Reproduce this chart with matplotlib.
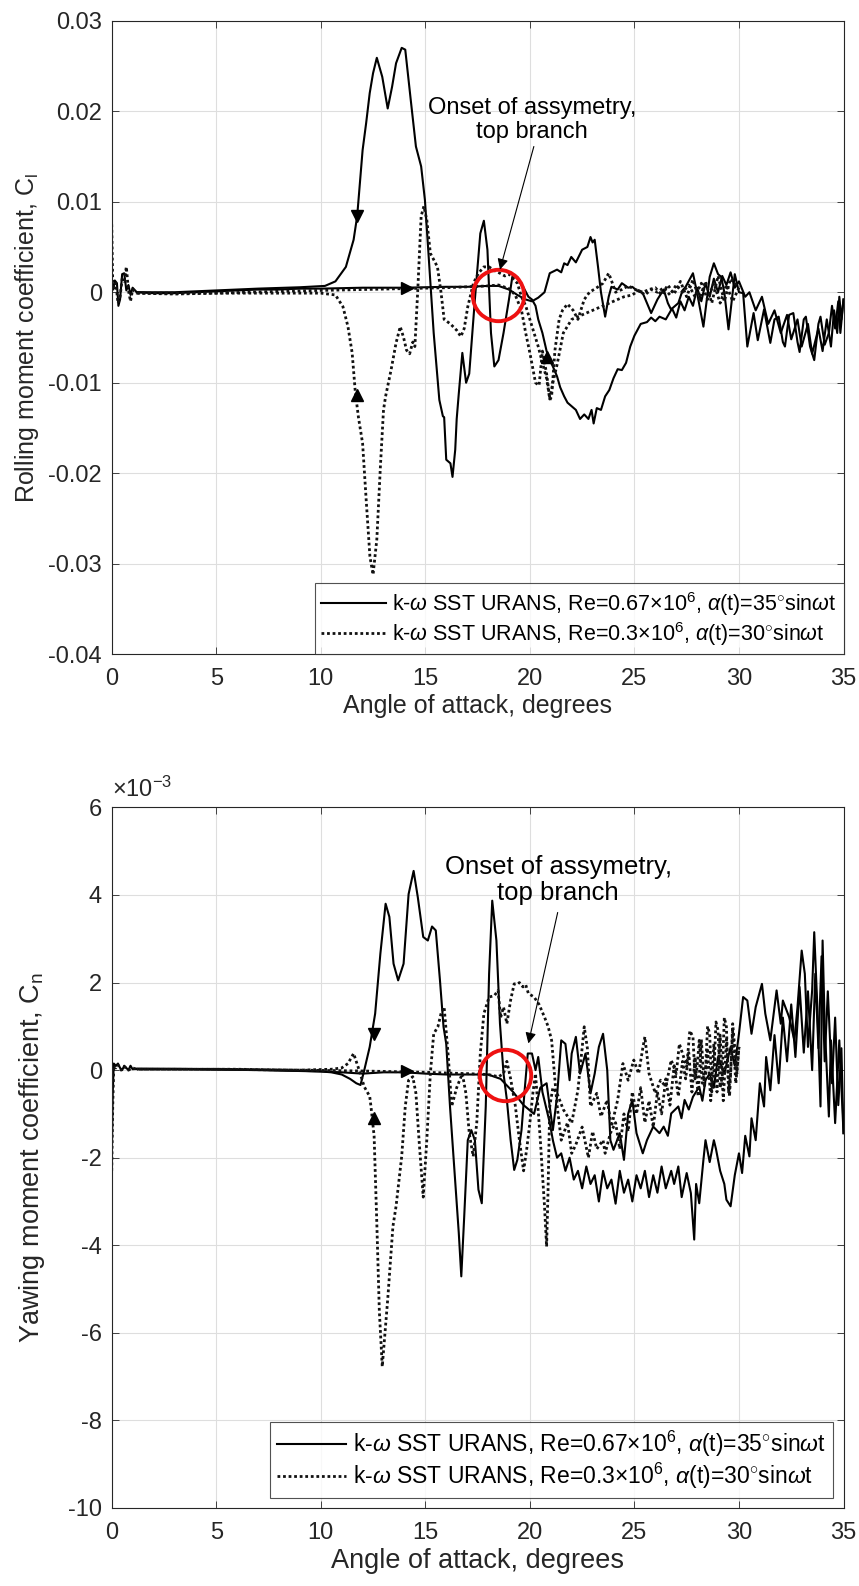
import numpy as np
import matplotlib
matplotlib.use("Agg")
import matplotlib.pyplot as plt

plt.rcParams['font.family'] = ['Liberation Sans', 'DejaVu Sans']
plt.rcParams['mathtext.fontset'] = 'custom'
plt.rcParams['mathtext.rm'] = 'Liberation Sans'
plt.rcParams['mathtext.it'] = 'Liberation Sans:italic'
plt.rcParams['mathtext.bf'] = 'Liberation Sans:bold'

# ---------------- data: rolling moment (top) ----------------
cl_re067_up = [(0.0,0.0012),(0.08,0.0003),(0.15,0.0013),(0.25,0.0010),(0.32,-0.0015),(0.4,-0.0008),(0.5,0.0020),
 (0.6,0.0021),(0.7,0.0002),(0.8,0.0008),(0.9,-0.0003),(1.0,0.0005),(1.2,0.0),(2,-0.0001),(3,-0.0001),(4,0.0),
 (5,0.0001),(6,0.0002),(7,0.0003),(8,0.0003),(9,0.0004),(10,0.0004),(12,0.0005),(14,0.0005),(16,0.0006),(17,0.0006),
 (18,0.0007),(18.5,0.0007),(19.0,0.0003),(19.4,-0.0003),(19.8,-0.0008),(20.1,-0.0010),(20.4,-0.0006),(20.7,0.0),
 (20.95,0.0021),(21.3,0.0025),(21.5,0.0022),(21.64,0.0032),(21.8,0.0030),(21.98,0.0039),(22.2,0.0033),(22.35,0.0040),
 (22.5,0.0047),(22.75,0.0050),(22.9,0.0061),(23.0,0.0055),(23.1,0.0058),(23.26,0.0028),(23.4,0.0),(23.6,-0.0027),
 (23.77,-0.0005),(23.9,0.0006),(24.2,0.0003),(24.4,0.0010),(24.7,0.0005),(24.9,0.0006),(25.1,0.0002),(25.4,-0.0001),
 (25.6,-0.0012),(25.8,-0.0023),(26.1,-0.0008),(26.4,0.0003),(26.6,-0.0012),(26.75,-0.0019),(27.1,-0.0012),(27.3,0.0002),
 (27.45,0.0006),(27.8,0.0021),(28.0,-0.0001),(28.3,-0.0038),(28.6,0.0017),(28.8,0.0032),(29.0,0.0020),(29.15,0.0017),
 (29.3,0.0),(29.5,-0.0041),(29.8,0.0020),(30.0,0.0),(30.2,-0.0001),(30.4,-0.0060),(30.7,-0.0023),(30.9,-0.0053),
 (31.2,-0.0019),(31.5,-0.0056),(31.7,-0.0030),(31.9,-0.0027),(32.1,-0.0055),(32.2,-0.0060),(32.4,-0.0025),(32.6,-0.0023),
 (32.8,-0.0055),(32.9,-0.0066),(33.1,-0.0030),(33.2,-0.0027),(33.4,-0.0060),(33.6,-0.0075),(33.8,-0.0035),(33.9,-0.0027),
 (34.1,-0.0058),(34.3,-0.0045),(34.45,-0.0015),(34.6,-0.0040),(34.75,-0.0010),(34.85,-0.0045),(35.0,-0.0008)]

cl_re067_down = [(35.0,-0.0008),(34.9,-0.0030),(34.8,-0.0005),(34.7,-0.0045),(34.55,-0.0020),(34.4,-0.0060),(34.2,-0.0030),
 (34.0,-0.0065),(33.8,-0.0040),(33.5,-0.0068),(33.3,-0.0035),(33.0,-0.0060),(32.8,-0.0030),(32.5,-0.0052),(32.3,-0.0025),
 (32.0,-0.0045),(31.7,-0.0020),(31.4,-0.0035),(31.1,-0.0005),(30.8,-0.0020),(30.5,0.0),(30.3,-0.0005),(30.0,0.0012),
 (29.8,0.0005),(29.6,0.0022),(29.4,0.0008),(29.2,0.0018),(29.0,0.0),(28.8,0.0015),(28.6,-0.0005),(28.4,0.0010),
 (28.2,-0.0010),(28.0,0.0005),(27.8,-0.0015),(27.6,-0.0005),(27.4,-0.0020),(27.2,-0.0010),(27.0,-0.0028),(26.8,-0.0018),
 (26.5,-0.0030),(26.2,-0.0027),(26.0,-0.0032),(25.8,-0.0028),(25.6,-0.0033),(25.3,-0.0035),(25.0,-0.0048),(24.8,-0.0060),
 (24.6,-0.0078),(24.4,-0.0086),(24.2,-0.0085),(24.0,-0.0095),(23.8,-0.0108),(23.6,-0.0115),(23.4,-0.0130),(23.2,-0.0128),
 (23.05,-0.0145),(22.95,-0.0130),(22.8,-0.0140),(22.6,-0.0135),(22.4,-0.0140),(22.2,-0.0130),(22.0,-0.0126),(21.8,-0.0122),
 (21.64,-0.0115),(21.45,-0.0105),(21.3,-0.0093),(21.1,-0.0082),(20.95,-0.0075),(20.8,-0.0065),(20.6,-0.0045),(20.4,-0.0030),
 (20.27,-0.0015),(20.1,-0.0008),(19.93,-0.0005),(19.7,0.0005),(19.4,0.0017),(19.16,0.0017),(19.0,-0.0008),(18.74,-0.0045),
 (18.5,-0.0075),(18.3,-0.0082),(18.14,-0.0045),(17.97,0.0047),(17.8,0.0079),(17.63,0.0065),(17.37,-0.0008),(17.1,-0.0090),
 (16.95,-0.0100),(16.77,-0.0067),(16.6,-0.0112),(16.5,-0.0140),(16.43,-0.0174),(16.3,-0.0204),(16.2,-0.0189),(16.0,-0.0185),
 (15.9,-0.0138),(15.84,-0.0137),(15.67,-0.0119),(15.4,-0.0045),(15.15,0.0043),(14.98,0.0102),(14.8,0.0139),(14.55,0.0161),
 (14.3,0.0213),(14.04,0.0268),(13.87,0.0270),(13.6,0.0253),(13.41,0.0227),(13.2,0.0203),(12.94,0.0238),(12.68,0.0259),
 (12.5,0.0242),(12.34,0.0220),(12.17,0.0187),(12.0,0.0157),(11.74,0.0084),(11.57,0.0058),(11.2,0.0028),(10.7,0.0012),
 (10.2,0.0007),(9.0,0.00055),(7.0,0.0004),(5.0,0.0002),(3.0,0.0),(1.2,0.0)]

cl_re03_up = [(0.0,0.0075),(0.05,0.0010),(0.12,0.0005),(0.2,0.0010),(0.3,-0.0012),(0.4,-0.0005),(0.5,0.0015),(0.6,0.0012),
 (0.7,0.0028),(0.8,0.0002),(0.9,-0.0010),(1.0,0.0003),(1.2,-0.0001),(3,-0.0002),(5,-0.0001),(8,0.0001),(10,0.0002),
 (12,0.0003),(14,0.0004),(16,0.0005),(17,0.0006),(18,0.0007),(18.5,0.0008),(19.0,0.0004),(19.3,-0.0003),(19.6,-0.0020),
 (19.8,-0.0045),(20.0,-0.0067),(20.27,-0.0100),(20.44,-0.0103),(20.6,-0.0065),(20.8,-0.0090),(20.96,-0.0119),(21.04,-0.0115),
 (21.2,-0.0064),(21.4,-0.0030),(21.56,-0.0020),(21.8,-0.0013),(22.07,-0.0020),(22.3,-0.0030),(22.6,-0.0008),(22.85,0.0),
 (23.2,0.0005),(23.5,0.0010),(23.77,0.0021),(23.9,0.0013),(24.1,0.0),(24.4,0.0003),(24.7,0.0007),(25.05,0.0003),(25.4,0.0),
 (25.7,0.0003),(26.0,0.0005),(26.3,-0.0003),(26.6,0.0008),(26.9,-0.0002),(27.2,0.0012),(27.5,-0.0005),(27.8,0.0014),
 (28.1,-0.0008),(28.4,0.0012),(28.7,-0.0012),(29.0,0.0018),(29.3,-0.0010),(29.6,0.0015),(30.0,0.0005)]

cl_re03_down = [(30.0,0.0005),(29.7,-0.0010),(29.4,0.0008),(29.1,-0.0012),(28.8,0.0010),(28.5,-0.0008),(28.2,0.0010),
 (27.9,-0.0005),(27.6,0.0008),(27.3,0.0),(27.0,0.0008),(26.7,-0.0003),(26.4,0.0005),(26.1,0.0),(25.8,0.0003),(25.5,-0.0003),
 (25.2,0.0002),(24.9,-0.0003),(24.5,-0.0005),(24.0,-0.0010),(23.5,-0.0015),(23.0,-0.0020),(22.5,-0.0025),(22.0,-0.0030),
 (21.6,-0.0045),(21.3,-0.0080),(21.1,-0.0100),(20.95,-0.0118),(20.8,-0.0095),(20.6,-0.0078),(20.4,-0.0060),(20.2,-0.0045),
 (20.0,-0.0030),(19.8,-0.0015),(19.6,-0.0005),(19.4,0.0010),(19.2,0.0015),(19.0,0.0020),(18.8,0.0018),(18.57,0.0021),
 (18.3,0.0024),(18.05,0.0028),(17.8,0.0028),(17.54,0.0021),(17.3,0.0010),(17.03,-0.0016),(16.86,-0.0040),(16.7,-0.0049),
 (16.5,-0.0042),(16.2,-0.0035),(15.9,-0.0030),(15.75,0.0),(15.58,0.0028),(15.4,0.0036),(15.24,0.0043),(15.07,0.0080),
 (14.93,0.0095),(14.8,0.0084),(14.64,0.0003),(14.5,-0.0060),(14.4,-0.0055),(14.25,-0.0068),(14.1,-0.0064),(13.96,-0.0050),
 (13.8,-0.0038),(13.6,-0.0056),(13.36,-0.0086),(13.1,-0.0115),(13.0,-0.0130),(12.85,-0.0193),(12.68,-0.0273),(12.5,-0.0312),
 (12.35,-0.0292),(12.17,-0.0229),(12.0,-0.0167),(11.8,-0.0138),(11.65,-0.0110),(11.5,-0.0067),(11.3,-0.0038),(11.06,-0.0016),
 (10.7,-0.0003),(10.0,-0.0001),(5.0,-0.0001),(1.2,-0.0001)]

# ---------------- data: yawing moment (bottom), units of 1e-3 ----------------
cn_re067_up = [(0.0,-2.2),(0.05,-0.5),(0.1,0.15),(0.2,0.1),(0.3,0.15),(0.4,0.05),(0.5,0.0),(0.6,0.1),(0.7,0.05),(0.8,0.0),
 (0.9,0.1),(1.0,0.02),(1.2,0.03),(3,0.03),(5,0.02),(8,0.0),(10,-0.03),(11,-0.05),(12,-0.08),(13,-0.05),(14,-0.05),(15,-0.08),
 (16,-0.1),(17,-0.1),(18,-0.1),(18.6,-0.2),(19.2,-0.5),(19.7,-0.8),(20.2,-1.0),(20.5,-0.4),(20.8,-0.3),(20.95,-0.83),
 (21.1,-1.37),(21.3,-0.6),(21.5,0.68),(21.7,0.6),(21.9,-0.23),(22.0,0.38),(22.2,0.76),(22.4,-0.08),(22.66,0.38),(22.9,-0.53),
 (23.1,-0.08),(23.3,0.53),(23.5,0.83),(23.7,0.0),(23.85,-1.6),(24.0,-1.82),(24.3,-1.44),(24.5,-2.05),(24.7,-1.0),(24.9,-0.68),
 (25.1,-1.44),(25.4,-1.9),(25.6,-1.6),(25.9,-1.29),(26.2,-1.44),(26.4,-1.29),(26.6,-1.5),(26.76,-0.99),(27.1,-0.83),
 (27.25,-1.1),(27.4,-0.68),(27.6,-0.9),(27.8,-0.61),(28.1,-0.38),(28.25,-0.7),(28.4,-0.23),(28.6,-0.08),(28.8,-0.4),
 (29.0,0.3),(29.3,-0.08),(29.6,0.53),(29.8,0.1),(30.0,0.83),(30.2,1.67),(30.4,1.59),(30.6,0.83),(30.8,1.44),(31.1,1.97),
 (31.26,1.29),(31.5,0.68),(31.8,1.82),(32.0,1.06),(32.1,1.59),(32.4,1.21),(32.65,0.68),(32.8,1.44),(33.0,2.73),(33.15,2.2),
 (33.3,0.53),(33.5,1.82),(33.6,3.15),(33.75,1.44),(33.9,-0.83),(34.0,2.96),(34.1,1.06),(34.3,-1.06),(34.4,0.68),(34.6,-1.21),
 (34.8,0.68),(35.0,-1.44)]

cn_re067_down = [(35.0,-1.44),(34.9,0.5),(34.75,-0.8),(34.6,1.2),(34.45,-0.3),(34.25,1.8),(34.1,0.2),(33.95,2.6),(33.8,0.5),
 (33.65,2.2),(33.5,0.0),(33.3,1.8),(33.1,0.4),(32.9,1.9),(32.7,0.3),(32.5,1.5),(32.3,0.2),(32.1,1.2),(31.9,-0.3),(31.7,0.8),
 (31.5,-0.46),(31.3,0.3),(31.2,-0.83),(31.0,-0.3),(30.8,-1.6),(30.6,-1.1),(30.5,-1.97),(30.3,-1.5),(30.15,-2.35),(30.0,-1.9),
 (29.8,-2.4),(29.6,-3.11),(29.4,-2.96),(29.3,-2.6),(29.1,-2.3),(28.9,-1.8),(28.8,-1.6),(28.6,-2.1),(28.4,-1.6),(28.3,-2.05),
 (28.1,-3.04),(27.95,-2.6),(27.86,-3.87),(27.7,-2.81),(27.5,-2.35),(27.26,-2.9),(27.1,-2.2),(26.9,-2.6),(26.76,-2.3),
 (26.5,-2.7),(26.3,-2.2),(26.1,-2.8),(25.9,-2.4),(25.7,-2.9),(25.5,-2.3),(25.3,-2.7),(25.1,-2.4),(24.9,-3.0),(24.7,-2.5),
 (24.5,-2.8),(24.3,-2.3),(24.1,-3.05),(23.9,-2.5),(23.7,-2.7),(23.5,-2.3),(23.3,-3.0),(23.1,-2.4),(22.9,-2.6),(22.7,-2.2),
 (22.5,-2.7),(22.3,-2.3),(22.1,-2.5),(21.9,-2.0),(21.7,-2.3),(21.5,-1.9),(21.3,-2.0),(21.1,-1.6),(20.95,-1.2),(20.8,-0.9),
 (20.6,-0.5),(20.4,0.3),(20.27,0.0),(20.1,0.38),(19.9,0.38),(19.75,-0.46),(19.6,-1.37),(19.4,-2.05),(19.25,-2.28),
 (19.08,-1.6),(18.9,-0.68),(18.74,-0.08),(18.57,1.06),(18.4,2.96),(18.2,3.87),(18.05,2.2),(17.89,-0.83),(17.7,-3.04),
 (17.54,-2.73),(17.37,-1.6),(17.2,-1.37),(17.03,-1.6),(16.86,-3.34),(16.72,-4.71),(16.6,-3.72),(16.4,-2.35),(16.18,-0.83),
 (16.0,0.6),(15.87,0.99),(15.7,2.05),(15.5,3.19),(15.32,3.28),(15.12,2.96),(14.9,3.04),(14.64,3.95),(14.44,4.55),(14.2,4.02),
 (13.96,2.43),(13.7,2.05),(13.48,2.43),(13.28,3.5),(13.1,3.8),(12.85,2.66),(12.6,1.29),(12.34,0.53),(12.08,0.0),(11.9,-0.34),
 (11.7,-0.3),(11.4,-0.2),(11.0,-0.1),(10.5,-0.05),(10.0,-0.03),(7.0,0.0),(4.0,0.02),(1.2,0.03)]

cn_re03_up = [(0.0,-2.3),(0.05,-0.8),(0.1,0.1),(0.2,0.05),(0.3,0.12),(0.45,0.0),(0.6,0.08),(0.8,0.0),(1.0,0.05),(1.2,0.02),
 (3,0.02),(6,0.02),(9,0.0),(12,-0.02),(15,-0.05),(17,-0.08),(18,-0.1),(18.5,-0.15),(18.74,-0.08),(18.9,0.2),(19.08,-0.2),
 (19.3,-0.8),(19.5,-1.6),(19.7,-2.3),(19.85,-1.8),(20.0,-1.2),(20.15,-0.5),(20.27,-0.08),(20.5,-1.6),(20.7,-3.11),(20.8,-4.03),
 (20.87,-2.73),(20.95,-0.83),(21.1,-0.4),(21.3,-0.53),(21.6,-0.9),(22.0,-1.21),(22.3,-0.45),(22.6,0.99),(22.75,0.5),
 (22.9,-0.83),(23.2,-0.53),(23.4,-1.06),(23.7,-0.68),(23.9,-1.29),(24.2,-0.68),(24.45,0.15),(24.7,-0.23),(24.97,0.23),
 (25.2,-0.08),(25.4,0.5),(25.5,0.76),(25.7,-0.08),(26.0,-0.53),(26.25,-0.23),(26.5,-0.38),(26.76,0.23),(27.0,-0.08),
 (27.15,0.6),(27.3,0.38),(27.5,0.08),(27.65,0.9),(27.8,0.76),(27.9,-0.2),(28.0,0.08),(28.1,0.68),(28.25,-0.3),(28.4,0.0),
 (28.5,1.0),(28.6,0.83),(28.7,-0.5),(28.8,-0.08),(28.9,1.1),(29.0,0.91),(29.1,-0.4),(29.2,-0.15),(29.3,1.2),(29.4,0.99),
 (29.5,-0.5),(29.6,-0.08),(29.7,1.06),(29.8,0.5),(29.9,-0.08),(30.0,0.53)]

cn_re03_down = [(30.0,0.53),(29.85,-0.3),(29.7,0.9),(29.55,-0.6),(29.4,0.7),(29.25,-0.7),(29.1,0.8),(28.95,-0.5),(28.8,0.6),
 (28.65,-0.7),(28.5,0.5),(28.35,-0.4),(28.2,0.7),(28.05,-0.6),(27.9,0.3),(27.75,-0.5),(27.6,0.4),(27.45,-0.2),(27.3,0.2),
 (27.1,-0.6),(26.9,0.1),(26.7,-0.8),(26.5,-0.2),(26.3,-1.0),(26.1,-0.5),(25.9,-1.3),(25.7,-0.7),(25.5,-1.2),(25.3,-0.4),
 (25.1,-1.0),(24.9,-0.5),(24.7,-1.4),(24.5,-1.0),(24.3,-1.8),(24.1,-1.2),(23.85,-1.44),(23.6,-1.9),(23.5,-1.6),(23.2,-1.8),
 (23.0,-1.4),(22.8,-2.0),(22.5,-1.3),(22.2,-1.7),(22.0,-1.9),(21.8,-1.2),(21.5,-1.6),(21.3,-0.8),(21.04,0.68),(20.87,1.0),
 (20.7,1.21),(20.44,1.5),(20.2,1.67),(19.93,1.75),(19.8,1.95),(19.67,1.9),(19.5,2.0),(19.42,1.97),(19.25,1.97),(19.08,1.6),
 (18.9,1.06),(18.74,1.44),(18.6,1.2),(18.48,1.82),(18.3,1.7),(18.05,1.67),(17.8,1.29),(17.63,0.38),(17.46,-1.2),(17.29,-1.97),
 (17.1,-1.44),(16.94,-0.53),(16.77,-0.08),(16.5,-0.4),(16.26,-0.83),(16.1,0.3),(15.9,1.44),(15.75,1.29),(15.6,0.99),
 (15.4,0.83),(15.24,-0.08),(15.07,-1.6),(14.9,-2.9),(14.7,-1.6),(14.55,-0.53),(14.4,-0.15),(14.2,-0.23),(14.04,-0.83),
 (13.87,-1.97),(13.6,-3.11),(13.45,-3.57),(13.2,-5.24),(12.94,-6.77),(12.8,-5.5),(12.68,-3.5),(12.55,-1.5),(12.4,-0.83),
 (12.34,-0.6),(12.08,-0.38),(11.8,0.05),(11.57,0.38),(11.3,0.15),(11.0,0.05),(10.5,0.02),(9.0,0.0),(5.0,0.02),(1.2,0.02)]

# direction arrows on curves and annotation positions
cl_arrow_alpha = [11.74, 14.13, 11.74, 20.82]
cl_arrow_value = [0.0084, 0.0005, -0.0113, -0.0071]
cl_arrow_marker = ['v', '>', '^', '^']
cn_arrow_alpha = [12.54, 14.13, 12.54]
cn_arrow_value = [0.83, -0.03, -1.1]
cn_arrow_marker = ['v', '>', '^']

cl_onset = (18.48, -0.0003)
cn_onset = (18.82, -0.11)
cl_note_text = (20.1, 0.0190)
cl_note_tail = (20.19, 0.0161)
cl_note_head = (18.57, 0.0025)
cn_note_text = (21.35, 4.35)
cn_note_tail = (21.33, 3.6)
cn_note_head = (19.93, 0.61)

x_ticks = [0, 5, 10, 15, 20, 25, 30, 35]
cl_ticks = [-0.04, -0.03, -0.02, -0.01, 0, 0.01, 0.02, 0.03]
cl_ticklabels = ['-0.04', '-0.03', '-0.02', '-0.01', '0', '0.01', '0.02', '0.03']
cn_ticks = [-10, -8, -6, -4, -2, 0, 2, 4, 6]
cn_ticklabels = ['-10', '-8', '-6', '-4', '-2', '0', '2', '4', '6']

labels = [r'k-$\omega$ SST URANS, Re=0.67$\times$10$^{6}$, $\alpha$(t)=35$^{\circ}$sin$\omega$t',
          r'k-$\omega$ SST URANS, Re=0.3$\times$10$^{6}$, $\alpha$(t)=30$^{\circ}$sin$\omega$t']

TXT = '#262626'
W, H = 859, 1586
fig = plt.figure(figsize=(W/100, H/100), dpi=100)

def px_axes(l, t, r, b):
    return fig.add_axes([l/W, 1-b/H, (r-l)/W, (b-t)/H])

ax1 = px_axes(111.7, 20.7, 843.5, 654.3)
ax2 = px_axes(111.7, 807.4, 843.5, 1508.0)

def seg(data):
    a = np.array(data)
    return a[:, 0], a[:, 1]

def style(ax, yt, ytl, ylim):
    ax.set_xlim(0, 35)
    ax.set_ylim(*ylim)
    ax.set_xticks(x_ticks)
    ax.set_xticklabels([str(v) for v in x_ticks])
    ax.set_yticks(yt)
    ax.set_yticklabels(ytl)
    ax.grid(True, color='#dedede', linewidth=0.8)
    ax.set_axisbelow(True)
    ax.tick_params(direction='in', top=True, right=True, length=5, width=0.6,
                   color=TXT, labelcolor=TXT, labelsize=17)
    ax.tick_params(axis='x', pad=10)
    ax.tick_params(axis='y', pad=7)
    for s in ax.spines.values():
        s.set_color(TXT)
        s.set_linewidth(0.8)

def draw(ax, up_s, down_s, up_d, down_d):
    for d in (up_s, down_s):
        x, y = seg(d)
        ax.plot(x, y, color='k', lw=1.5, solid_joinstyle='round')
    for d in (up_d, down_d):
        x, y = seg(d)
        ax.plot(x, y, color='#111111', lw=2.0, linestyle=(0, (1, 1)))

def legend(ax, fs, anchor):
    h = [plt.Line2D([], [], color='k', lw=1.5),
         plt.Line2D([], [], color='#111111', lw=2.0, linestyle=(0, (1, 1)))]
    lg = ax.legend(h, labels, loc='lower right', fontsize=fs, frameon=True, fancybox=False,
                   bbox_to_anchor=anchor, borderaxespad=0, handlelength=3.0, handletextpad=0.3,
                   borderpad=0.3, labelspacing=0.1)
    lg.get_frame().set_edgecolor(TXT)
    lg.get_frame().set_linewidth(0.8)
    return lg

# ---- top ----
draw(ax1, cl_re067_up, cl_re067_down, cl_re03_up, cl_re03_down)
style(ax1, cl_ticks, cl_ticklabels, (-0.04, 0.03))
for xa, ya, m in zip(cl_arrow_alpha, cl_arrow_value, cl_arrow_marker):
    ax1.plot([xa], [ya], marker=m, color='k', ms=8, ls='none')
ax1.plot([cl_onset[0]], [cl_onset[1]], marker='o', ms=37, mfc='none', mec='#ee1111', mew=2.8, ls='none')
ax1.text(cl_note_text[0], cl_note_text[1], 'Onset of assymetry,\ntop branch', ha='center', va='center',
         fontsize=17, color='k', linespacing=1.1)
ax1.annotate('', xy=cl_note_head, xytext=cl_note_tail,
             arrowprops=dict(arrowstyle='-|>', color='k', lw=0.8, mutation_scale=16, shrinkA=0, shrinkB=0))
ax1.set_ylabel(r'Rolling moment coefficient, C$_{\mathregular{l}}$', fontsize=18, color=TXT)
ax1.set_xlabel('Angle of attack, degrees', fontsize=18, color=TXT, labelpad=3)
ax1.yaxis.set_label_coords(-0.097, 0.5)
legend(ax1, 15.5, (1.0, 0.0))

# ---- bottom ----
draw(ax2, cn_re067_up, cn_re067_down, cn_re03_up, cn_re03_down)
style(ax2, cn_ticks, cn_ticklabels, (-10, 6))
for xa, ya, m in zip(cn_arrow_alpha, cn_arrow_value, cn_arrow_marker):
    ax2.plot([xa], [ya], marker=m, color='k', ms=8, ls='none')
ax2.plot([cn_onset[0]], [cn_onset[1]], marker='o', ms=37, mfc='none', mec='#ee1111', mew=2.8, ls='none')
ax2.text(cn_note_text[0], cn_note_text[1], 'Onset of assymetry,\ntop branch', ha='center', va='center',
         fontsize=18.5, color='k', linespacing=1.1)
ax2.annotate('', xy=cn_note_head, xytext=cn_note_tail,
             arrowprops=dict(arrowstyle='-|>', color='k', lw=0.8, mutation_scale=16, shrinkA=0, shrinkB=0))
ax2.set_ylabel(r'Yawing moment coefficient, C$_{\mathregular{n}}$', fontsize=19.5, color=TXT)
ax2.set_xlabel('Angle of attack, degrees', fontsize=19.5, color=TXT, labelpad=3)
ax2.yaxis.set_label_coords(-0.088, 0.5)
ax2.text(0.0, 1.008, r'$\times$10$^{\mathregular{-3}}$', transform=ax2.transAxes, ha='left', va='bottom',
         fontsize=17, color=TXT)
legend(ax2, 16.5, (1 - 11/731.8, 10/700.6))

fig.savefig('out.png', dpi=100)
